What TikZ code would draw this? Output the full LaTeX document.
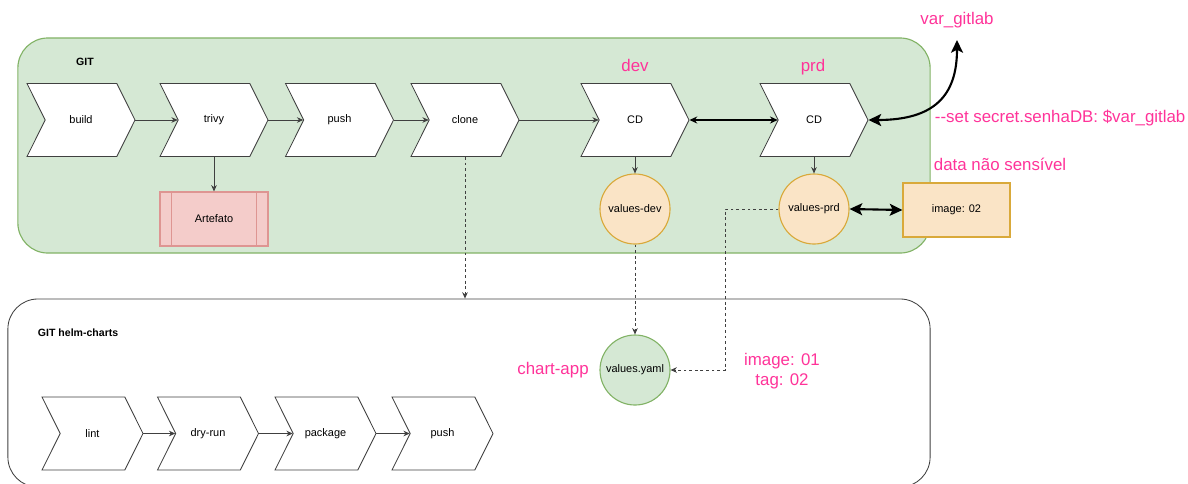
\documentclass[tikz,border=0pt]{standalone}
\usepackage{fontspec}
\setmainfont{Liberation Sans}
\usetikzlibrary{shapes.symbols,arrows.meta}

\definecolor{gitfill}{HTML}{D5E8D4}
\definecolor{gitline}{HTML}{82B366}
\definecolor{valfill}{HTML}{FAE4C6}
\definecolor{valline}{HTML}{D9A93A}
\definecolor{artfill}{HTML}{F4CCCA}
\definecolor{artline}{HTML}{DE9592}
\definecolor{hot}{HTML}{FF3399}

\tikzset{
  stage/.style={signal, signal from=west, signal to=east, signal pointer angle=127,
    draw=black!75, fill=white, line width=0.6pt, minimum width=2.7cm,
    minimum height=1.825cm, inner sep=0pt, font=\fontsize{7.8}{9}\selectfont},
  flow/.style={-{Stealth[length=4.5pt,width=4pt]}, draw=black!75, line width=0.6pt},
  dflow/.style={flow, dash pattern=on 2pt off 2pt},
  bigflow/.style={{Stealth[length=9pt,width=8.5pt,inset=2pt]}-{Stealth[length=9pt,width=8.5pt,inset=2pt]}, line width=1.5pt},
  hotlabel/.style={text=hot, font=\fontsize{12}{14}\selectfont},
  valcircle/.style={circle, draw=valline, fill=valfill, line width=0.8pt, minimum size=1.75cm,
    inner sep=0pt, font=\fontsize{7.8}{9}\selectfont},
}

\begin{document}
\begin{tikzpicture}[x=0.025cm,y=-0.025cm]
  \useasboundingbox (0,0) rectangle (1188,483);
  % boxes
  \node[draw=gitline, fill=gitfill, rounded corners=0.75cm, line width=0.8pt,
    minimum width=22.8cm, minimum height=5.375cm] (git) at (474,145.5) {};
  \node[draw=black!75, rounded corners=0.75cm, line width=0.6pt,
    minimum width=23.05cm, minimum height=4.7cm] (helm) at (469,393) {};
  \node[font=\bfseries\fontsize{7.5}{9}\selectfont] (gitlab) at (85,62) {GIT};
  \node[font=\bfseries\fontsize{7.5}{9}\selectfont, anchor=west] (helmlab) at (33,333) {GIT helm-charts};

  % pipeline
  \node[stage] (build) at (81,120) {build};
  \node[stage] (trivy) at (214,120) {trivy};
  \node[stage] (push) at (339.5,120) {push};
  \node[stage] (clone) at (465,120) {clone};
  \node[stage] (cddev) at (635,120) {CD};
  \node[stage] (cdprd) at (814,120) {CD};
  \draw[flow] (build.east) -- (trivy.west);
  \draw[flow] (trivy.east) -- (push.west);
  \draw[flow] (push.east) -- (clone.west);
  \draw[flow] (clone.east) -- (cddev.west);
  \draw[{Stealth[length=5.5pt,width=5pt]}-{Stealth[length=5.5pt,width=5pt]}, line width=1pt]
    (cddev.east) -- (cdprd.west);

  \node[hotlabel] (devlab) at (635,65) {dev};
  \node[hotlabel] (prdlab) at (813,67) {prd};

  % artefato
  \node[draw=artline, fill=artfill, line width=0.8pt, minimum width=2.7cm, minimum height=1.35cm,
    font=\fontsize{7.8}{9}\selectfont] (art) at (214,219) {Artefato};
  \draw[artline, line width=0.8pt] ([xshift=0.3cm]art.north west) -- ([xshift=0.3cm]art.south west);
  \draw[artline, line width=0.8pt] ([xshift=-0.3cm]art.north east) -- ([xshift=-0.3cm]art.south east);
  \draw[flow] (trivy.south) -- (art.north);

  % values
  \node[valcircle] (valdev) at (635,209) {values-dev};
  \node[valcircle] (valprd) at (814,209) {values-prd};
  \node[draw=valline, fill=valfill, line width=0.8pt, minimum width=2.675cm, minimum height=1.35cm,
    font=\fontsize{7.8}{9}\selectfont] (img) at (956.5,210) {image: 02};
  \draw[flow] (cddev.south) -- (valdev.north);
  \draw[flow] (cdprd.south) -- (valprd.north);
  \draw[bigflow] (valprd.east) -- (img.west);

  % var_gitlab
  \node[hotlabel] (varlab) at (957,20) {var\_gitlab};
  \coordinate (vtip) at (957,40);
  \draw[bigflow] (cdprd.east) .. controls (935,120) and (957,95) .. (vtip);
  \node[hotlabel, anchor=west] (setlab) at (930,118) {-{}-set secret.senhaDB: \$var\_gitlab};
  \node[hotlabel, anchor=west] (datalab) at (929,164) {data não sensível};

  % helm chart
  \node[circle, draw=gitline, fill=gitfill, line width=0.8pt, minimum size=1.75cm, inner sep=0pt,
    font=\fontsize{7.8}{9}\selectfont] (valyaml) at (635,370) {values.yaml};
  \node[hotlabel] (chartlab) at (553,370) {chart-app};
  \node[hotlabel, align=center] (imgtag) at (782,371) {image: 01\\tag: 02};
  \coordinate (bend) at (725,370);
  \draw[dflow] (clone.south) -- (clone.south |- helm.north);
  \draw[dflow] (valdev.south) -- (valyaml.north);
  \draw[dflow] (valprd.west) -| (bend) -- (valyaml.east);

  \node[stage, minimum width=2.525cm] (lint) at (92.5,433.5) {lint};
  \node[stage, minimum width=2.525cm] (dryrun) at (208,433.5) {dry-run};
  \node[stage, minimum width=2.525cm] (package) at (325.5,433.5) {package};
  \node[stage, minimum width=2.525cm] (hpush) at (442.5,433.5) {push};
  \draw[flow] (lint.east) -- (dryrun.west);
  \draw[flow] (dryrun.east) -- (package.west);
  \draw[flow] (package.east) -- (hpush.west);
\end{tikzpicture}
\end{document}
